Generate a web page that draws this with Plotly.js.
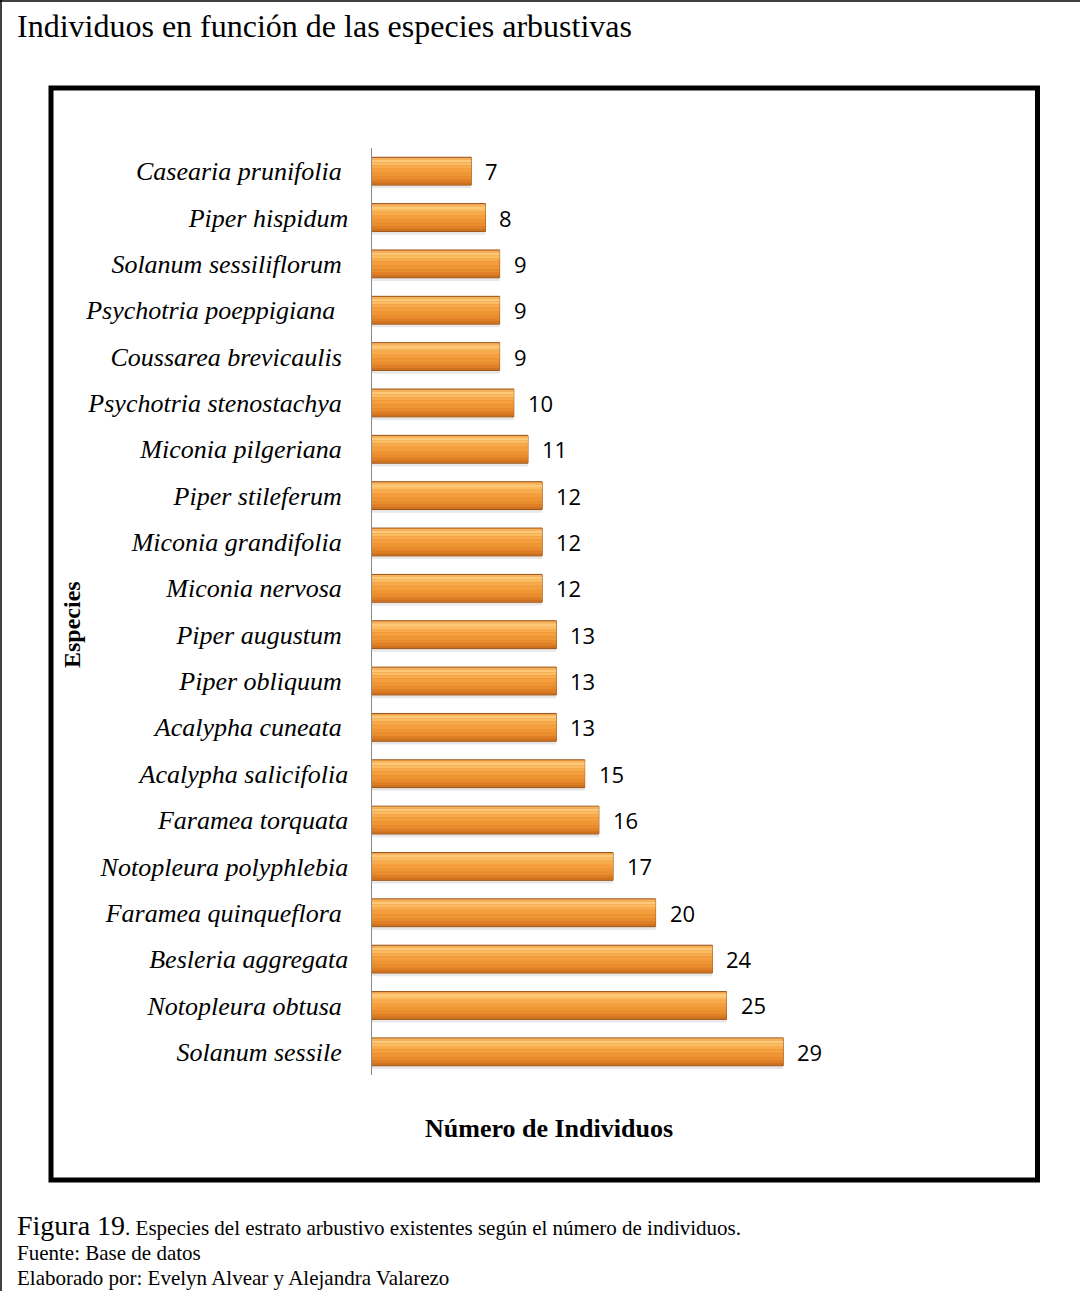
<!DOCTYPE html>
<html>
<head>
<meta charset="utf-8">
<script src="https://cdn.plot.ly/plotly-3.0.1.min.js"></script>
<style>
  html, body { margin: 0; padding: 0; background: #ffffff; }
  #chart { width: 1080px; height: 1291px; }
</style>
</head>
<body>
<div id="chart"></div>
<script>
// Shrub species ordered from top to bottom of the chart
const categories = [
  "Casearia prunifolia", "Piper hispidum", "Solanum sessiliflorum",
  "Psychotria poeppigiana", "Coussarea brevicaulis", "Psychotria stenostachya",
  "Miconia pilgeriana", "Piper stileferum", "Miconia grandifolia",
  "Miconia nervosa", "Piper augustum", "Piper obliquum", "Acalypha cuneata",
  "Acalypha salicifolia", "Faramea torquata", "Notopleura polyphlebia",
  "Faramea quinqueflora", "Besleria aggregata", "Notopleura obtusa",
  "Solanum sessile"
];

// Number of individuals per species
const individuals = [7, 8, 9, 9, 9, 10, 11, 12, 12, 12, 13, 13, 13, 15, 16, 17, 20, 24, 25, 29];

// Tick labels as typed in the source table (some keep trailing spaces)
const NB = "\u00a0";
const tickLabels = [
  "Casearia prunifolia" + NB, "Piper hispidum", "Solanum sessiliflorum" + NB,
  "Psychotria poeppigiana" + NB + NB, "Coussarea brevicaulis" + NB,
  "Psychotria stenostachya" + NB, "Miconia pilgeriana" + NB,
  "Piper stileferum" + NB, "Miconia grandifolia" + NB, "Miconia nervosa" + NB,
  "Piper augustum" + NB, "Piper obliquum" + NB, "Acalypha cuneata" + NB,
  "Acalypha salicifolia", "Faramea torquata", "Notopleura polyphlebia",
  "Faramea quinqueflora" + NB, "Besleria aggregata", "Notopleura obtusa" + NB,
  "Solanum sessile" + NB
];

const chartTitle = "Individuos en función de las especies arbustivas";
const xTitle = "Número de Individuos";
const yTitle = "Especies";
const captionLines = [
  "<span style='font-size:28px'>Figura 19</span>. Especies del estrato arbustivo existentes según el número de individuos.",
  "Fuente: Base de datos",
  "Elaborado por: Evelyn Alvear y Alejandra Valarezo"
];

// Page geometry (pixels)
const W = 1080, H = 1291;
const M = { l: 372, r: 70, t: 148, b: 216 };
const plotW = W - M.l - M.r, plotH = H - M.t - M.b;
const px = x => (x - M.l) / plotW;          // page x -> paper x
const py = y => (H - M.b - y) / plotH;      // page y -> paper y

// Bevelled orange bars built from stacked horizontal bands (top to bottom)
const bands = [
  { offset: -0.30, width: 0.60, color: "#e07f28", line: "#9a5419", lw: 1 },
  { offset: -0.285, width: 0.04, color: "#f6b35c", line: null, lw: 0 },
  { offset: -0.245, width: 0.06, color: "#fdc978", line: null, lw: 0 },
  { offset: -0.185, width: 0.06, color: "#fbbc62", line: null, lw: 0 },
  { offset: -0.125, width: 0.07, color: "#f8ab4c", line: null, lw: 0 },
  { offset: -0.055, width: 0.09, color: "#f49e3d", line: null, lw: 0 },
  { offset:  0.035, width: 0.08, color: "#ef9634", line: null, lw: 0 },
  { offset:  0.115, width: 0.07, color: "#e98c2e", line: null, lw: 0 },
  { offset:  0.185, width: 0.06, color: "#de7f26", line: null, lw: 0 },
  { offset:  0.245, width: 0.04, color: "#cc711f", line: null, lw: 0 }
];

const traces = [];
// soft drop shadow under each bar
traces.push({
  type: "bar", orientation: "h", y: categories, x: individuals,
  offset: -0.25, width: 0.62,
  marker: { color: "rgba(0,0,0,0.09)", line: { width: 0 } },
  hoverinfo: "skip", showlegend: false
});
bands.forEach(b => {
  traces.push({
    type: "bar", orientation: "h", y: categories, x: individuals,
    offset: b.offset, width: b.width,
    marker: {
      color: b.color,
      line: { color: b.line || b.color, width: b.lw }
    },
    hoverinfo: "skip", showlegend: false
  });
});

// value labels beside each bar
const valueNotes = categories.map((c, i) => ({
  x: individuals[i], y: c, xref: "x", yref: "y",
  text: String(individuals[i]), showarrow: false,
  xanchor: "left", yanchor: "middle", xshift: 12,
  font: { family: "Open Sans, sans-serif", size: 22, color: "#000" }
}));

const serif = "Liberation Serif, Times New Roman, serif";

const annotations = valueNotes.concat([
  { x: px(15), y: py(26), xref: "paper", yref: "paper", text: chartTitle,
    showarrow: false, xanchor: "left", yanchor: "middle",
    font: { family: serif, size: 32, color: "#000" } },
  { x: px(72), y: py(625), xref: "paper", yref: "paper", text: "<b>" + yTitle + "</b>",
    showarrow: false, textangle: -90, xanchor: "center", yanchor: "middle",
    font: { family: serif, size: 24, color: "#000" } },
  { x: px(549), y: py(1128), xref: "paper", yref: "paper", text: "<b>" + xTitle + "</b>",
    showarrow: false, xanchor: "center", yanchor: "middle",
    font: { family: serif, size: 26, color: "#000" } },
  { x: px(15), y: py(1225), xref: "paper", yref: "paper", text: captionLines[0],
    showarrow: false, xanchor: "left", yanchor: "middle",
    font: { family: serif, size: 21, color: "#000" } },
  { x: px(15), y: py(1253), xref: "paper", yref: "paper", text: captionLines[1],
    showarrow: false, xanchor: "left", yanchor: "middle",
    font: { family: serif, size: 21, color: "#000" } },
  { x: px(15), y: py(1278), xref: "paper", yref: "paper", text: captionLines[2],
    showarrow: false, xanchor: "left", yanchor: "middle",
    font: { family: serif, size: 21, color: "#000" } }
]);

const shapes = [
  // outer page frame (left and top edges)
  { type: "line", xref: "paper", yref: "paper", x0: px(1), x1: px(1), y0: py(0), y1: py(H),
    line: { color: "#000", width: 1.5 } },
  { type: "line", xref: "paper", yref: "paper", x0: px(0), x1: px(W), y0: py(1), y1: py(1),
    line: { color: "#000", width: 1.5 } },
  // thick frame around the chart
  { type: "rect", xref: "paper", yref: "paper",
    x0: px(51), x1: px(1037.5), y0: py(1180), y1: py(88),
    line: { color: "#000", width: 5 }, fillcolor: "rgba(0,0,0,0)" }
];

const layout = {
  width: W, height: H,
  margin: M,
  paper_bgcolor: "#ffffff", plot_bgcolor: "#ffffff",
  barmode: "overlay",
  showlegend: false,
  xaxis: {
    range: [0, plotW / 14.18], visible: false, showgrid: false, zeroline: false, fixedrange: true
  },
  yaxis: {
    type: "category", autorange: "reversed",
    tickmode: "array", tickvals: categories, ticktext: tickLabels,
    showline: true, linecolor: "#8c8c8c", linewidth: 1.5,
    ticks: "outside", ticklen: 17, tickcolor: "rgba(0,0,0,0)",
    showgrid: false, zeroline: false,
    tickfont: { family: serif, size: 26, color: "#000", style: "italic" }
  },
  annotations: annotations,
  shapes: shapes
};

Plotly.newPlot("chart", traces, layout, { staticPlot: true, displayModeBar: false });
</script>
</body>
</html>
